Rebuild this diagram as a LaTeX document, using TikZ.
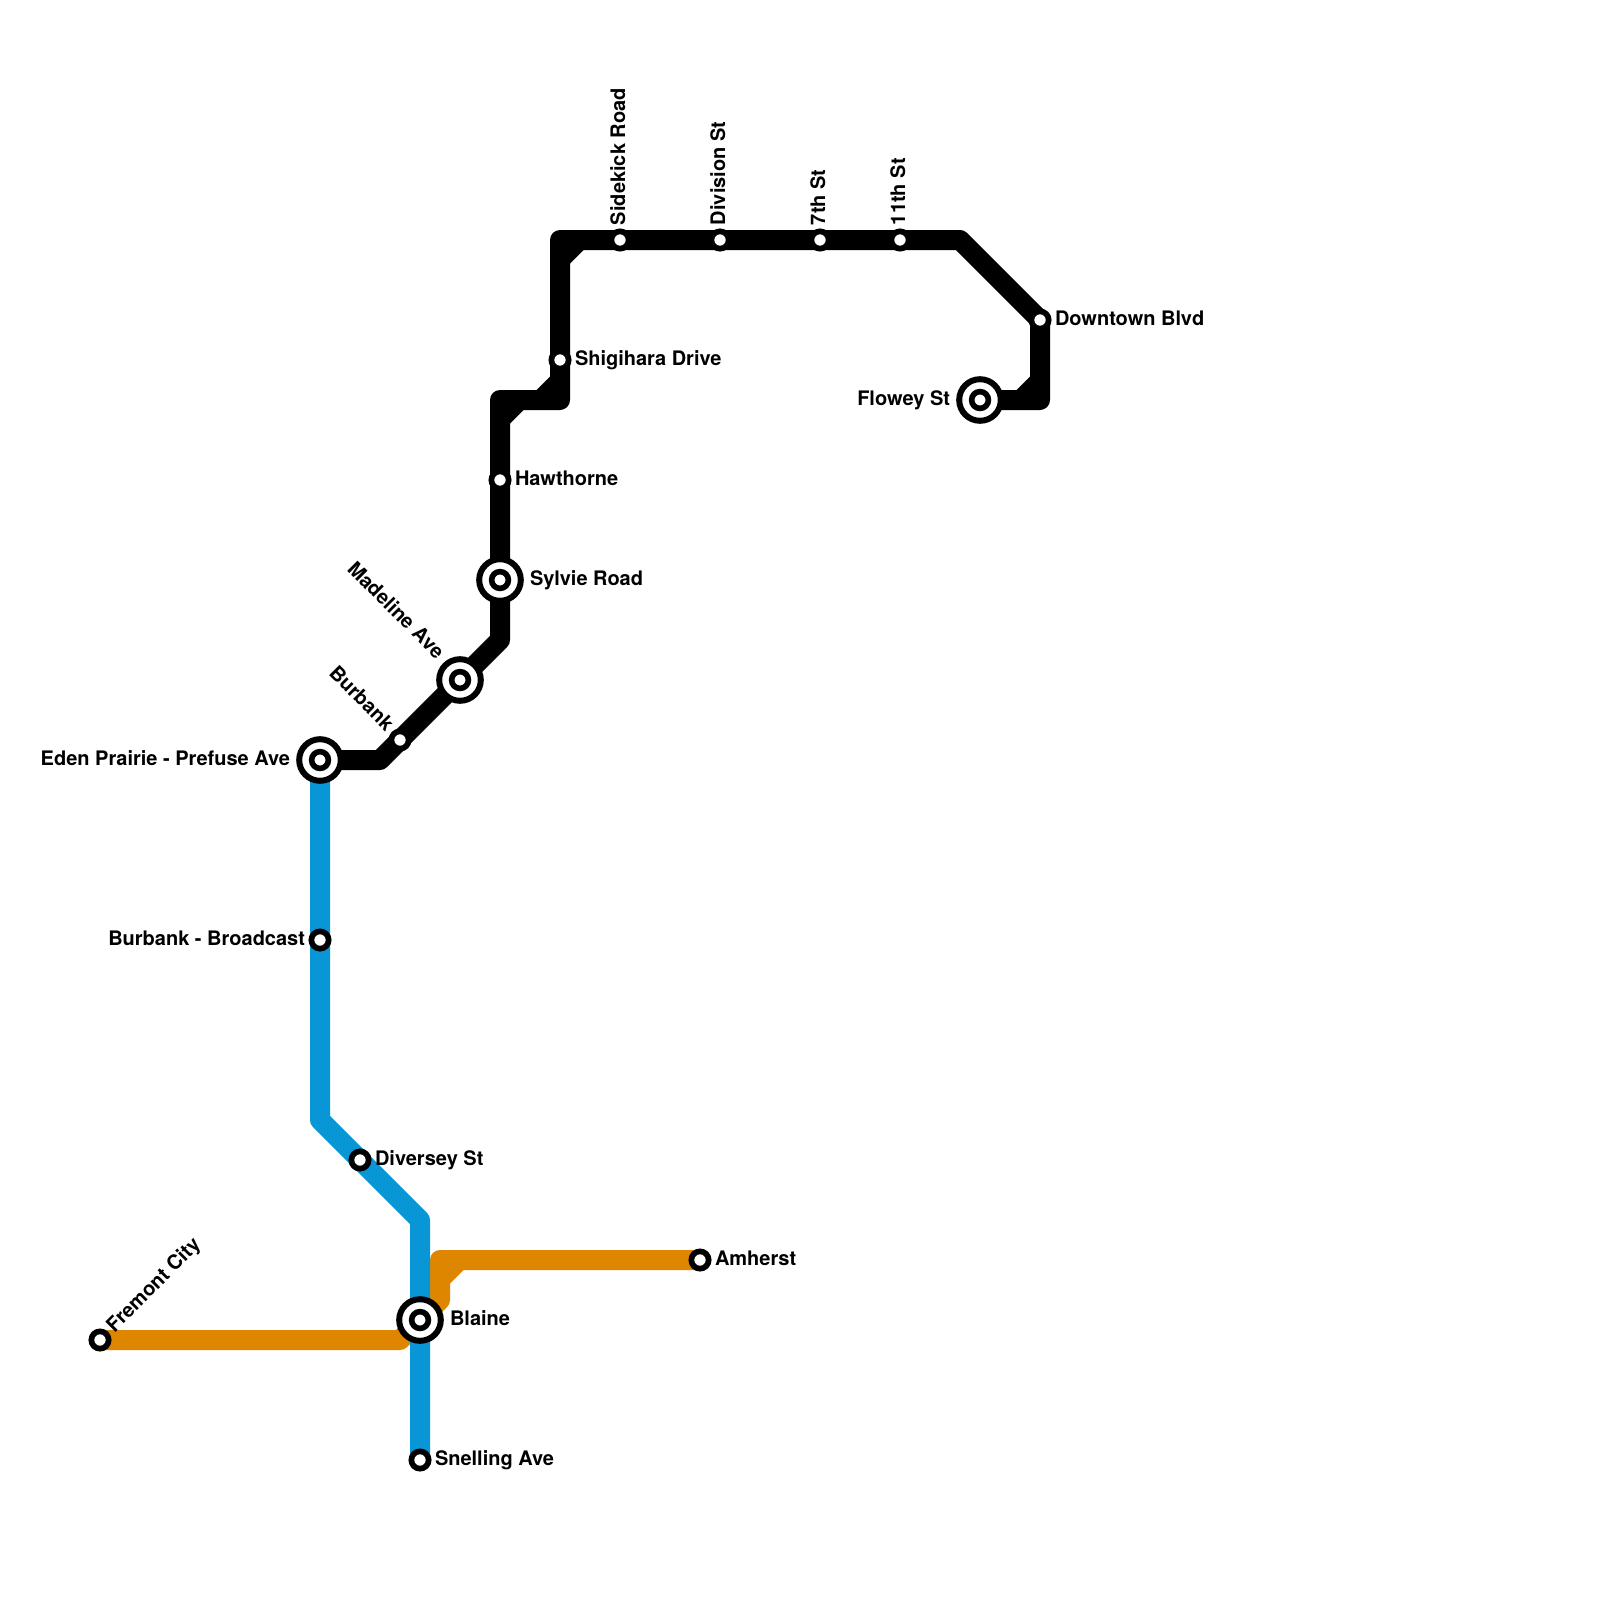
\documentclass[tikz,border=0pt]{standalone}
\usepackage{fontspec}
\setmainfont{TeX Gyre Heros}
\usetikzlibrary{backgrounds}
\definecolor{lineblue}{HTML}{0896D7}
\definecolor{lineorange}{HTML}{DF8600}
\tikzset{
  x=1pt,y=-1pt,
  transit/.style={line width=20pt,line join=round,line cap=round},
  stop/.style={circle,draw=black,fill=white,line width=5.7pt,minimum size=17.3pt,inner sep=0pt,outer sep=0pt},
  hub/.style={circle,draw=black,fill=white,line width=6pt,minimum size=41.6pt,inner sep=0pt,outer sep=0pt},
  hubcore/.style={circle,draw=black,fill=white,line width=5.6pt,minimum size=16.8pt,inner sep=0pt,outer sep=0pt},
  lbl/.style={font=\bfseries\fontsize{20}{22}\selectfont,inner sep=0pt,outer sep=0pt,text=black},
  chamfer/.style={fill=black,draw=none}
}
\begin{document}
\begin{tikzpicture}
\useasboundingbox (0,0) rectangle (1600,1600);
% hubs
\node[hub] (eden) at (320,760) {};
\node[hubcore] (edenin) at (320,760) {};
\node[hub] (madeline) at (460,680) {};
\node[hubcore] (madelinein) at (460,680) {};
\node[hub] (sylvie) at (500,580) {};
\node[hubcore] (sylviein) at (500,580) {};
\node[hub] (flowey) at (980,400) {};
\node[hubcore] (floweyin) at (980,400) {};
\node[hub] (blaine) at (420,1320) {};
\node[hubcore] (blainein) at (420,1320) {};
% small stops
\node[stop] (broadcast) at (320,940) {};
\node[stop] (diversey) at (360,1160) {};
\node[stop] (snelling) at (420,1460) {};
\node[stop] (amherst) at (700,1260) {};
\node[stop] (fremont) at (100,1340) {};
\node[stop] (burbank) at (400,740) {};
\node[stop] (hawthorne) at (500,480) {};
\node[stop] (shigihara) at (560,360) {};
\node[stop] (sidekick) at (620,240) {};
\node[stop] (division) at (720,240) {};
\node[stop] (seventh) at (820,240) {};
\node[stop] (eleventh) at (900,240) {};
\node[stop] (downtown) at (1040,320) {};
% bends
\coordinate (b1) at (380,760);
\coordinate (b2) at (500,640);
\coordinate (b3) at (500,400);
\coordinate (b4) at (560,400);
\coordinate (b5) at (560,240);
\coordinate (b6) at (960,240);
\coordinate (b7) at (1040,400);
\coordinate (u1) at (320,1120);
\coordinate (u2) at (420,1220);
\coordinate (o1) at (400,1340);
\coordinate (o2) at (440,1300);
\coordinate (o3) at (440,1260);
\begin{scope}[on background layer]
\fill[white] (0,0) rectangle (1600,1600);
\draw[transit,lineorange] (fremont.center) -- (o1) -- (o2) -- (o3) -- (amherst.center);
\fill[lineorange] (o3) ++(10,10) -- ++(0,13.5) -- ++(13.5,-13.5) -- cycle;
\draw[transit,lineblue] (eden.center) -- (u1) -- (u2) -- (snelling.center);
\draw[transit,black] (eden.center) -- (b1) -- (b2) -- (b3) -- (b4) -- (b5) -- (b6) -- (downtown.center) -- (b7) -- (flowey.center);
\fill[chamfer] (b5) ++(10,10) -- ++(0,13.5) -- ++(13.5,-13.5) -- cycle;
\fill[chamfer] (b3) ++(10,10) -- ++(0,13.5) -- ++(13.5,-13.5) -- cycle;
\fill[chamfer] (b4) ++(-10,-10) -- ++(0,-13.5) -- ++(-13.5,13.5) -- cycle;
\fill[chamfer] (b7) ++(-10,-10) -- ++(0,-13.5) -- ++(-13.5,13.5) -- cycle;
\end{scope}
% labels
\node[lbl,anchor=base west] (tsylvie) at (530,585) {Sylvie Road};
\node[lbl,anchor=base west] (thaw) at (515,485) {Hawthorne};
\node[lbl,anchor=base west] (tshi) at (575,365) {Shigihara Drive};
\node[lbl,anchor=base west] (tdown) at (1055,325) {Downtown Blvd};
\node[lbl,anchor=base east] (tflow) at (950,405) {Flowey St};
\node[lbl,anchor=base east] (teden) at (290,765) {Eden Prairie - Prefuse Ave};
\node[lbl,anchor=base east] (tbroad) at (305,945) {Burbank - Broadcast};
\node[lbl,anchor=base west] (tdiv) at (375,1165) {Diversey St};
\node[lbl,anchor=base west] (tamh) at (715,1265) {Amherst};
\node[lbl,anchor=base west] (tbla) at (450,1325) {Blaine};
\node[lbl,anchor=base west] (tsne) at (435,1465) {Snelling Ave};
\node[lbl,anchor=base west,rotate=90] (tsid) at (625,225) {Sidekick Road};
\node[lbl,anchor=base west,rotate=90] (tdvs) at (725,225) {Division St};
\node[lbl,anchor=base west,rotate=90] (t7) at (825,225) {7th St};
\node[lbl,anchor=base west,rotate=90] (t11) at (905,225) {11th St};
\node[lbl,anchor=base east,rotate=-45] (tmad) at (436,660) {Madeline Ave};
\node[lbl,anchor=base east,rotate=-45] (tbur) at (385.5,732) {Burbank};
\node[lbl,anchor=base west,rotate=45] (tfre) at (114.5,1333) {Fremont City};
\end{tikzpicture}
\end{document}
